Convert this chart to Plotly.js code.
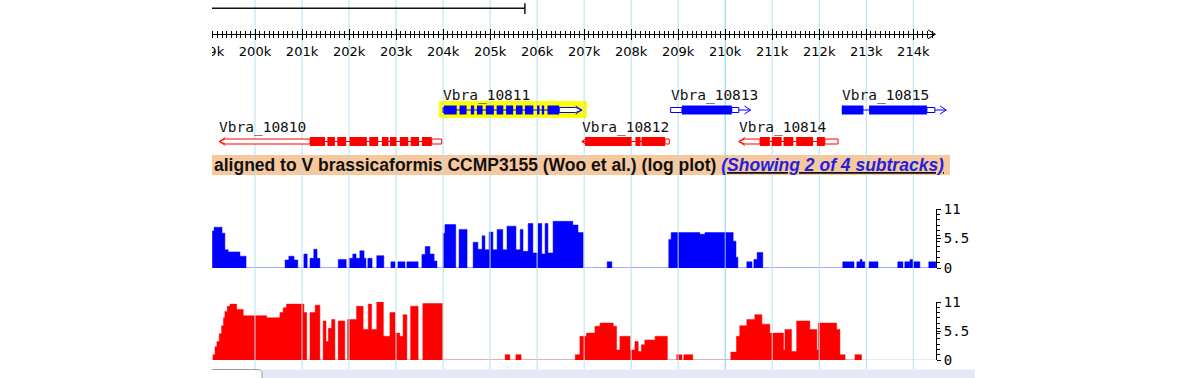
<!DOCTYPE html>
<html><head><meta charset="utf-8">
<script src="https://cdn.plot.ly/plotly-3.0.1.min.js"></script>
<style>html,body{margin:0;padding:0;background:#fff;}#chart{width:1200px;height:378px;}</style>
</head><body><div id="chart"></div>
<script>
// ---------------- DATA ----------------
const rulerTickPos = [199000,200000,201000,202000,203000,204000,205000,206000,207000,208000,209000,210000,211000,212000,213000,214000];
const rulerTickText = ['199k','200k','201k','202k','203k','204k','205k','206k','207k','208k','209k','210k','211k','212k','213k','214k'];
const gridPos = [200000,201000,202000,203000,204000,205000,206000,207000,208000,209000,210000,211000,212000,213000,214000];
const viewStart = 199085, viewEnd = 214462;
const scaleBarStart = 199085, scaleBarEnd = 205740;

// blue subtrack (step positions in bp, log-scaled coverage)
const blueX = [199090,199130,199300,199360,199430,199680,199810,200640,200720,200830,200910,201040,201110,201170,201250,201320,201380,201770,201940,202000,202080,202150,202230,202320,202360,202400,202490,202590,202740,202890,202980,203040,203190,203230,203470,203550,203620,203720,203810,203870,204000,204040,204270,204340,204510,204640,204740,204830,204890,204980,205060,205150,205270,205360,205550,205640,205700,205810,205910,206020,206100,206170,206230,206340,206760,206870,206980,207490,207590,208800,208850,209460,209570,210170,210230,210270,210460,210570,210610,210680,210800,212500,212740,212800,212870,212910,212970,213060,213250,213670,213780,213820,213930,213990,214140,214330,214480];
const blueY = [6.9,7.6,6.5,3.4,3.0,2.2,0,1.5,2.2,1.5,0,2.6,0,1.8,3.5,1.8,0,1.6,0,1.8,2.6,1.8,3.2,1.8,0,1.8,0,2.3,0,1.15,0,1.15,0,1.15,0,2.5,4.0,2.6,1.3,0,6.5,8.1,0,7.2,0,4.8,3.5,6.0,3.4,6.7,3.4,7.2,3.4,7.8,3.4,7.2,3.1,8.3,2.8,8.3,2.6,8.3,2.8,8.7,8.0,6.6,0,1.15,0,5.3,6.6,6.3,6.6,5.0,2.0,0,1.15,0,1.6,2.9,0,1.15,0,1.15,1.6,1.15,0,1.15,0,1.15,0,1.15,1.6,1.15,0,1.15,0];

// red subtrack
const redX = [199100,199150,199190,199240,199290,199330,199360,199410,199470,199610,199750,200250,200530,200600,200670,201040,201100,201170,201280,201380,201450,201510,201560,201630,201700,201770,201910,201970,202160,202300,202410,202480,202590,202730,202870,202980,203080,203150,203230,203310,203470,203570,203990,205320,205420,205550,205660,206810,206910,207050,207230,207340,207620,207690,207760,207980,208080,208150,208220,208290,208510,208770,208970,209080,209120,209310,210120,210240,210310,210460,210630,210780,210950,211240,211270,211410,211520,211800,211950,211980,212370,212440,212550,212760,212900];
const redY = [1.0,2.5,3.5,5.0,6.5,8.0,9.2,10.2,10.6,9.6,8.4,8.0,9.0,9.9,10.6,9.0,0,9.0,10.4,0,7.4,3.5,6.0,7.7,0,7.4,0,7.7,10.2,5.8,10.6,5.8,11.0,4.5,9.0,5.1,4.5,8.6,0,10.2,0,10.7,0,1.0,0,1.0,0,1.0,4.5,5.1,6.4,7.0,6.4,1.9,4.5,1.9,3.5,1.6,2.9,3.8,4.5,0,1.0,0,1.0,0,1.5,4.5,6.5,7.7,8.6,6.8,5.1,1.9,5.8,1.6,7.4,5.8,1.9,7.0,5.8,1.0,0,1.0,0];

const wiggleTickVals = [0,5.5,11];
const wiggleTickText = ['0','5.5','11'];

// gene models
const geneNames  = ['Vbra_10810','Vbra_10811','Vbra_10812','Vbra_10813','Vbra_10814','Vbra_10815'];
const geneStrand = ['-','+','-','+','-','+'];
const txStart    = [199240,204000,207020,208840,210290,212480];
const txEnd      = [203970,206950,208810,210290,212400,214460];
const cdsStart   = [201170,204020,207020,209080,210740,212480];
const cdsEnd     = [203760,206470,208720,210140,212120,214290];
const arrowTip   = [199240,206950,206950,210540,210290,214700];
const exonBlocks = [
  [[201170,201490],[201540,201700],[201750,201940],[202010,202380],[202430,202620],[202700,202840],[202870,203010],[203080,203260],[203310,203490],[203550,203760]],
  [[204020,204290],[204350,204500],[204590,204660],[204720,204840],[204910,205080],[205140,205280],[205340,205490],[205550,205690],[205740,205920],[206000,206050],[206100,206150],[206220,206470]],
  [[207020,208010],[208090,208200],[208220,208720]],
  [[209080,210140]],
  [[210740,210950],[210990,211200],[211240,211450],[211510,211870],[211950,212120]],
  [[212480,212940],[213060,214290]]
];
const highlightRange = [203910,207060];
const trackTitle = 'aligned to V brassicaformis CCMP3155 (Woo et al.) (log plot)';
const trackLink = '(Showing 2 of 4 subtracks)';

// ---------------- STYLE ----------------
const BLUE = '#0000ff', RED = '#ff0000';
const GRID = '#b0e0ec', GRID_DARK = '#84cbdf';
const ROW_Y = {'+':110, '-':141.5};
const LABEL_Y = {'+':95.8, '-':127.2};
const CH = 130; // chevron length (bp)

const shapes = [];
shapes.push({type:'rect', xref:'x', yref:'y3', x0:viewStart, x1:214780, y0:155, y1:175, fillcolor:'#f7c89e', line:{width:0}, layer:'below'});
shapes.push({type:'rect', xref:'x', yref:'y3', x0:200150, x1:215310, y0:369.5, y1:378, fillcolor:'#e5e7f7', line:{width:0}, layer:'below'});
shapes.push({type:'rect', xref:'x', yref:'y3', x0:highlightRange[0], x1:highlightRange[1], y0:101, y1:118, fillcolor:'#ffff00', line:{width:0}, layer:'below'});
gridPos.forEach(p => shapes.push({type:'line', xref:'x', yref:'y3', x0:p, x1:p, y0:0, y1:369, line:{color: p===210000?GRID_DARK:GRID, width:1}, layer:'below'}));
shapes.push({type:'line', xref:'x', yref:'y', x0:viewStart, x1:214480, y0:0, y1:0, line:{color:GRID,width:1}, layer:'below'});
shapes.push({type:'line', xref:'x', yref:'y2', x0:viewStart, x1:214480, y0:0, y1:0, line:{color:GRID,width:1}, layer:'below'});
shapes.push({type:'path', xref:'x', yref:'y3', path:`M ${viewStart},369.5 L 200060,369.5 Q 200150,369.5 200150,373 L 200150,378`, line:{color:'#9a9a9a',width:1}, layer:'below'});
shapes.push({type:'line', xref:'x', yref:'y3', x0:scaleBarStart, x1:scaleBarEnd, y0:8.3, y1:8.3, line:{color:'#111',width:1.5}, layer:'below'});
shapes.push({type:'line', xref:'x', yref:'y3', x0:scaleBarEnd, x1:scaleBarEnd, y0:3.3, y1:14, line:{color:'#111',width:1.5}, layer:'below'});
shapes.push({type:'path', xref:'x', yref:'y3', path:'M 214310,29.8 L 214472,34.3 L 214310,38.8', line:{color:'#000',width:1}, layer:'below'});

geneNames.forEach((g,i) => {
  const plus = geneStrand[i]==='+';
  const col = plus ? BLUE : RED;
  const yc = ROW_Y[geneStrand[i]];
  const ln = {color:col, width:1};
  shapes.push({type:'line', xref:'x', yref:'y3', x0:txStart[i], x1:txEnd[i], y0:yc, y1:yc, line:ln, layer:'below'});
  const pointedLeft = !plus && arrowTip[i]===txStart[i];
  const pointedRight = plus && arrowTip[i]===txEnd[i];
  const h = 2.5;
  if (cdsStart[i] > txStart[i]) {
    const a = txStart[i], b = cdsStart[i];
    const path = pointedLeft
      ? `M ${a+CH},${yc-h} L ${b},${yc-h} L ${b},${yc+h} L ${a+CH},${yc+h} L ${a},${yc} Z`
      : `M ${a},${yc-h} L ${b},${yc-h} L ${b},${yc+h} L ${a},${yc+h} Z`;
    shapes.push({type:'path', xref:'x', yref:'y3', path, fillcolor:'#fff', line:ln, layer:'below'});
  }
  if (txEnd[i] > cdsEnd[i]) {
    const a = cdsEnd[i], b = txEnd[i];
    const path = pointedRight
      ? `M ${a},${yc-h} L ${b-CH},${yc-h} L ${b},${yc} L ${b-CH},${yc+h} L ${a},${yc+h} Z`
      : `M ${a},${yc-h} L ${b},${yc-h} L ${b},${yc+h} L ${a},${yc+h} Z`;
    shapes.push({type:'path', xref:'x', yref:'y3', path, fillcolor:'#fff', line:ln, layer:'below'});
  }
  exonBlocks[i].forEach(([s,e]) => shapes.push({type:'rect', xref:'x', yref:'y3', x0:s, x1:e, y0:yc-4.5, y1:yc+4.5, fillcolor:col, line:{width:0}, layer:'below'}));
  const t = arrowTip[i];
  if (plus) {
    if (t > txEnd[i]) shapes.push({type:'line', xref:'x', yref:'y3', x0:txEnd[i], x1:t, y0:yc, y1:yc, line:ln, layer:'below'});
    shapes.push({type:'path', xref:'x', yref:'y3', path:`M ${t-CH},${yc-4} L ${t},${yc} L ${t-CH},${yc+4}`, line:ln, layer:'below'});
  } else {
    if (t < txStart[i]) shapes.push({type:'line', xref:'x', yref:'y3', x0:t, x1:txStart[i], y0:yc, y1:yc, line:ln, layer:'below'});
    shapes.push({type:'path', xref:'x', yref:'y3', path:`M ${t+CH},${yc-4} L ${t},${yc} L ${t+CH},${yc+4}`, line:ln, layer:'below'});
  }
});
shapes.push({type:'rect', xref:'paper', yref:'paper', x0:0, x1:212/1200, y0:0, y1:1, fillcolor:'#fff', line:{width:0}, layer:'above'});

const annotations = geneNames.map((g,i) => ({
  x: Math.min(txStart[i], arrowTip[i]) - 40, xref:'x', y: LABEL_Y[geneStrand[i]], yref:'y3',
  text: g, showarrow:false, xanchor:'left', yanchor:'middle',
  font:{family:'DejaVu Sans Mono', size:14.5, color:'#111'}
}));
annotations.push({
  x: viewStart, xref:'x', y:165, yref:'y3', xanchor:'left', yanchor:'middle', showarrow:false,
  text: `<b>${trackTitle} </b><b><i><u><span style="color:#2222dd">${trackLink}</span></u></i></b>`,
  font:{family:'Liberation Sans, Arial', size:17.5, color:'#111'}
});

const yTrackAxis = (dom) => ({
  domain: dom, range:[0,11], anchor:'free', position: 936/1200, side:'right',
  showline:true, linecolor:'#000', linewidth:1, ticks:'outside', ticklen:4, tickcolor:'#000',
  tickvals: wiggleTickVals, ticktext: wiggleTickText,
  minor:{dtick:1, tick0:0, ticks:'outside', ticklen:2.5, tickcolor:'#000'},
  tickfont:{family:'DejaVu Sans Mono', size:14, color:'#000'},
  showgrid:false, zeroline:false, fixedrange:true, ticklabelstandoff:0
});

const rulerBase = {
  domain:[208/1200, 935/1200], range:[rulerTickPos[0], viewEnd], anchor:'free', position: 1-34.3/378,
  side:'bottom', fixedrange:true, showgrid:false, zeroline:false,
  tickvals: rulerTickPos, ticktext: rulerTickText, tickcolor:'#000', tickwidth:1
};

const layout = {
  width:1200, height:378, margin:{l:0,r:0,t:0,b:0},
  paper_bgcolor:'#fff', plot_bgcolor:'rgba(0,0,0,0)', showlegend:false,
  xaxis:{domain:[0,1], range:[194577,220098], visible:false, fixedrange:true},
  yaxis: yTrackAxis([1-268/378, 1-209/378]),
  yaxis2: yTrackAxis([1-360/378, 1-302/378]),
  yaxis3:{domain:[0,1], range:[378,0], visible:false, anchor:'x', fixedrange:true},
  xaxis2: Object.assign({}, rulerBase, {showline:true, linecolor:'#000', linewidth:1, ticks:'outside', ticklen:5,
    minor:{dtick:100, tick0:0, ticks:'outside', ticklen:3, tickcolor:'#000'},
    tickfont:{family:'DejaVu Sans', size:13, color:'#000'}, ticklabelstandoff:0}),
  xaxis3: Object.assign({}, rulerBase, {showline:false, ticks:'inside', ticklen:5, showticklabels:false,
    minor:{dtick:100, tick0:0, ticks:'inside', ticklen:3, tickcolor:'#000'}}),
  shapes, annotations
};

const traces = [
  {type:'scatter', x:blueX, y:blueY, xaxis:'x', yaxis:'y', mode:'lines', line:{shape:'hv', width:0.5, color:BLUE}, fill:'tozeroy', fillcolor:BLUE, hoverinfo:'skip'},
  {type:'scatter', x:redX, y:redY, xaxis:'x', yaxis:'y2', mode:'lines', line:{shape:'hv', width:0.5, color:RED}, fill:'tozeroy', fillcolor:RED, hoverinfo:'skip'},
  {type:'scatter', x:[], y:[], xaxis:'x', yaxis:'y3', hoverinfo:'skip'},
  {type:'scatter', x:[], y:[], xaxis:'x2', yaxis:'y3', hoverinfo:'skip'},
  {type:'scatter', x:[], y:[], xaxis:'x3', yaxis:'y3', hoverinfo:'skip'}
];

Plotly.newPlot('chart', traces, layout, {staticPlot:true, displayModeBar:false});
</script></body></html>
